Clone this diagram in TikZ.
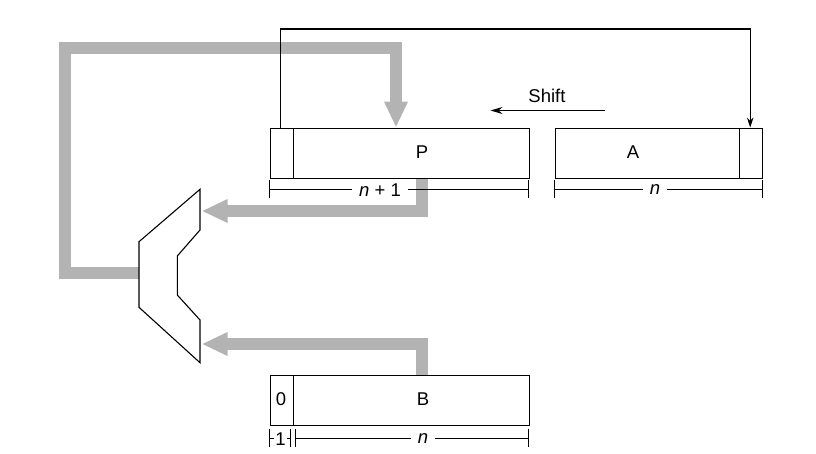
\documentclass[tikz,border=0pt]{standalone}
\usepackage{fontspec}
\setmainfont{Liberation Sans}
\usetikzlibrary{arrows.meta}
\definecolor{grayarrow}{RGB}{179,179,179}
\begin{document}
\begin{tikzpicture}[x=1pt,y=-1pt,
  every node/.style={font=\fontsize{18.5}{20}\selectfont},
  reg/.style={draw, line width=1.2pt, minimum height=50pt, inner sep=0pt, anchor=north west},
  blk/.style={draw, line width=1.1pt},
  lbl/.style={inner sep=0pt},
  dim/.style={draw, line width=1pt},
  dimlbl/.style={fill=white, inner xsep=7pt, inner ysep=1pt},
  garrow/.style={draw=grayarrow, line width=12pt, line join=miter,
    -{Triangle[length=26pt,width=22pt]}}]
\useasboundingbox (0,0) rectangle (816,453);

% multiplexer / adder
\coordinate (m1) at (200,189.3);
\coordinate (m2) at (200,230);
\coordinate (m3) at (177.3,256);
\coordinate (m4) at (177.3,295);
\coordinate (m5) at (200,320);
\coordinate (m6) at (200,362.7);
\coordinate (m7) at (139,307.3);
\coordinate (m8) at (139,241.7);
\coordinate (muxout) at (139,272.5);
\coordinate (muxinA) at (201.7,211);
\coordinate (muxinB) at (201.7,344);

% registers
\node[reg, minimum width=259pt] (P) at (269.5,127.5) {};
\node[reg, minimum width=207.5pt] (A) at (554.5,127.5) {};
\node[reg, minimum width=259pt] (B) at (269.5,374.5) {};

% gray data paths
\draw[garrow] (muxout) -| (65.3,48) -| ([xshift=126.5pt]P.north west);
\draw[garrow] ([xshift=152.5pt]P.south west) |- (muxinA);
\draw[garrow] ([xshift=152.5pt]B.north west) |- (muxinB);

% mux shape
\draw[blk, line join=miter] (m1) -- (m2) -- (m3) -- (m4) -- (m5) -- (m6) -- (m7) -- (m8) -- cycle;

% registers on top
\node[reg, minimum width=259pt] at (269.5,127.5) {};
\node[reg, minimum width=207.5pt] at (554.5,127.5) {};
\node[reg, minimum width=259pt] at (269.5,374.5) {};
\draw[line width=1.2pt] ([xshift=24pt]P.north west) -- ([xshift=24pt]P.south west);
\draw[line width=1.2pt] ([xshift=-24pt]A.north east) -- ([xshift=-24pt]A.south east);
\draw[line width=1.2pt] ([xshift=24pt]B.north west) -- ([xshift=24pt]B.south west);

\node[lbl] (Pl) at (422,152.5) {P};
\node[lbl] (Al) at (633,152.5) {A};
\node[lbl] (Bl) at (423,399.5) {B};
\node[lbl] (Zl) at (281,399.5) {0};

% shift arrow into A
\draw[blk, -{Stealth[length=10pt,width=6.5pt]}] ([xshift=11pt]P.north west) -- ++(0,-98.5) -| ([xshift=-13pt]A.north east);

% shift label
\node[lbl] (sh) at (547,95.5) {Shift};
\coordinate (shs) at (605,110.5);
\coordinate (she) at (490.5,110.5);
\draw[blk, -{Stealth[length=12pt,width=7pt]}] (shs) -- (she);

% dimension lines
\draw[dim] (269.5,180) -- (269.5,198) (528.5,180) -- (528.5,198) (269.5,189.5) -- (528.5,189.5);
\node[dimlbl] (dP) at (380,190) {\textit{n} + 1};
\draw[dim] (554.5,180) -- (554.5,198) (762.5,180) -- (762.5,198) (554.5,189.5) -- (762.5,189.5);
\node[dimlbl] (dA) at (655,190) {\textit{n}};
\draw[dim] (269.5,429) -- (269.5,447) (290.5,429) -- (290.5,447) (269.5,438.5) -- (290.5,438.5);
\node[dimlbl, inner xsep=1.5pt] (dB1) at (280.5,439) {1};
\draw[dim] (295.5,429) -- (295.5,447) (528.5,429) -- (528.5,447) (295.5,438.5) -- (528.5,438.5);
\node[dimlbl] (dB) at (423,439) {\textit{n}};
\end{tikzpicture}
\end{document}
